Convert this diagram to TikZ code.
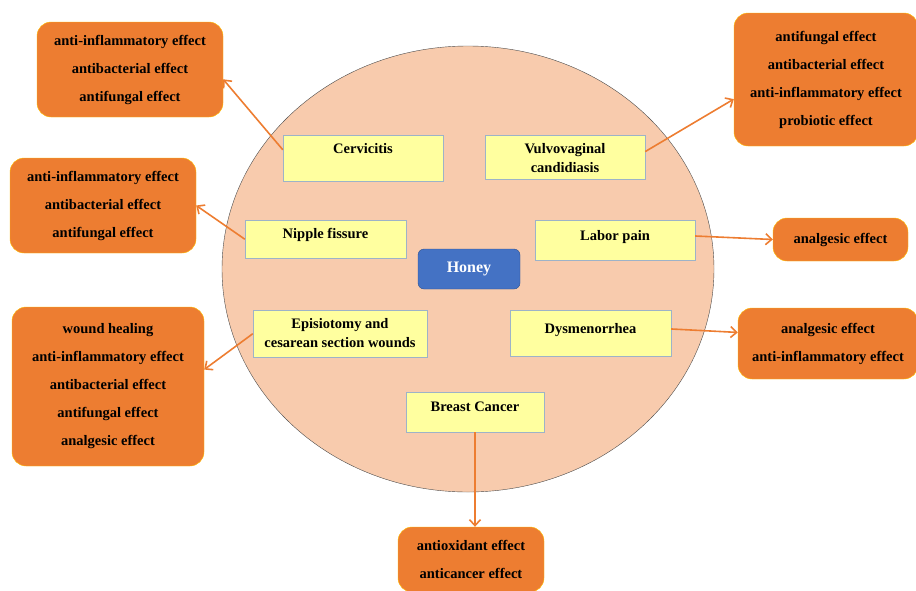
\documentclass[tikz,border=0pt]{standalone}
\usepackage{fontspec}
\setmainfont{Liberation Serif}
\usetikzlibrary{arrows.meta}
\definecolor{peach}{HTML}{F8CBAD}
\definecolor{effectorange}{HTML}{ED7D31}
\definecolor{effectrim}{HTML}{FFC000}
\definecolor{usepale}{HTML}{FFFF9F}
\definecolor{userim}{HTML}{9DB3C8}
\definecolor{honeyblue}{HTML}{4472C4}
\definecolor{honeyrim}{HTML}{2F528F}

\begin{document}
\begin{tikzpicture}[x=1pt,y=-1pt,
    effectbox/.style={draw=effectrim,fill=effectorange,rounded corners=14pt,align=center,inner sep=0pt,font=\fontsize{14.5}{28}\selectfont\bfseries},
    usebox/.style={draw=userim,fill=usepale,anchor=north,align=center,inner sep=0pt,font=\fontsize{14.5}{19}\selectfont\bfseries},
    link/.style={-{Straight Barb[length=6pt,width=11pt]},effectorange,line width=1.6pt}]
            \useasboundingbox (0,0) rectangle (916,590);
            % Draw the big circle
            \draw[fill=peach,draw=black!70] (468,269) ellipse [x radius=246, y radius=223];
            \node[draw=honeyrim,fill=honeyblue,text=white,rounded corners=6pt,minimum width=102pt,minimum height=40pt,font=\fontsize{16}{18}\selectfont\bfseries] (honey) at (469,269) {Honey};
            % Uses inside the circle
            \node[usebox,minimum width=160pt,text height=18pt,text depth=28pt] (cerv) at (363,135) {Cervicitis};
            \node[usebox,minimum width=161pt,text height=18pt,text depth=20pt] (nip) at (325.5,220) {Nipple fissure};
            \node[usebox,minimum width=160pt,text height=37pt,text depth=7pt] (vul) at (565,135) {Vulvovaginal\\candidiasis};
            \node[usebox,minimum width=160pt,text height=20pt,text depth=20pt] (lab) at (615,220) {Labor pain};
            \node[usebox,minimum width=174pt,text height=37pt,text depth=10pt] (epi) at (340,310) {Episiotomy and\\cesarean section wounds};
            \node[usebox,minimum width=161pt,text height=23pt,text depth=23pt] (dys) at (590.5,310) {Dysmenorrhea};
            \node[usebox,minimum width=138pt,text height=19pt,text depth=21pt] (bc) at (475,392) {Breast Cancer};
            % Effect boxes
            \node[effectbox,minimum width=186pt,minimum height=95pt] (ob1) at (130,69.5) {anti-inflammatory effect\\antibacterial effect\\antifungal effect};
            \node[effectbox,minimum width=186pt,minimum height=95pt] (ob2) at (103,205.5) {anti-inflammatory effect\\antibacterial effect\\antifungal effect};
            \node[effectbox,minimum width=192pt,minimum height=159pt] (ob3) at (108,386.5) {wound healing\\anti-inflammatory effect\\antibacterial effect\\antifungal effect\\analgesic effect};
            \node[effectbox,minimum width=184pt,minimum height=133pt] (ob4) at (826,79.5) {antifungal effect\\antibacterial effect\\anti-inflammatory effect\\probiotic effect};
            \node[effectbox,minimum width=135pt,minimum height=43pt] (ob5) at (840.5,239.5) {analgesic effect};
            \node[effectbox,minimum width=180pt,minimum height=71pt] (ob6) at (828,343.5) {analgesic effect\\anti-inflammatory effect};
            \node[effectbox,minimum width=146pt,minimum height=65pt] (ob7) at (471,559.5) {antioxidant effect\\anticancer effect};
            % Draw arrows
            \draw[link] (cerv.174) -- (ob1.-6);
            \draw[link] (nip.west) -- (ob2.east);
            \draw[link] (vul.4) -- (ob4.192);
            \draw[link] (lab.3) -- (ob5.west);
            \draw[link] (epi.west) -- (ob3.10);
            \draw[link] (dys.3) -- (ob6.173);
            \draw[link] (bc.south) -- (bc.south |- ob7.north);
        \end{tikzpicture}
\end{document}
